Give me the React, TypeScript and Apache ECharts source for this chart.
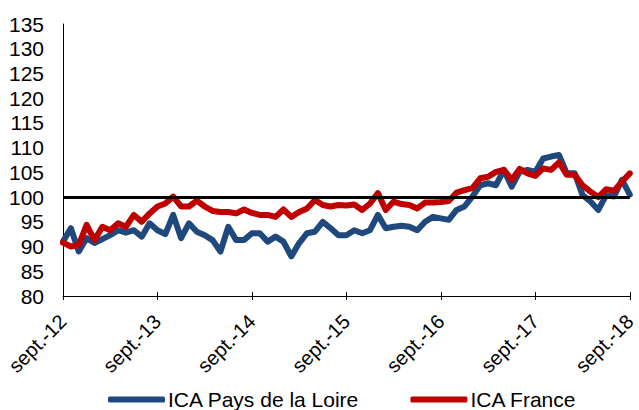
import React, { useEffect, useRef } from "react";
import * as echarts from "echarts";

const MONTHS = ["janv.", "févr.", "mars", "avr.", "mai", "juin", "juil.", "août", "sept.", "oct.", "nov.", "déc."];
const START_YEAR = 2012;
const START_MONTH = 8; // sept.
const N_MONTHS = 73;

const categories: string[] = [];
for (let i = 0; i < N_MONTHS; i++) {
  const m = (START_MONTH + i) % 12;
  const y = START_YEAR + Math.floor((START_MONTH + i) / 12);
  categories.push(MONTHS[m] + "-" + String(y % 100).padStart(2, "0"));
}

const paysDeLaLoire = [
  91, 93.7, 89, 91.7, 90.7, 91.5, 92.3, 93.3, 92.8, 93.3, 92, 94.7,
  93.3, 92.5, 96.4, 91.7, 94.7, 93, 92.3, 91.3, 89, 94, 91.3, 91.3,
  92.7, 92.7, 91, 92, 91, 88, 90.7, 92.7, 93, 95, 93.7, 92.3,
  92.3, 93.3, 92.7, 93.3, 96.4, 93.7, 94, 94.2, 94, 93.3, 95, 96,
  95.7, 95.4, 97.4, 98.1, 100.1, 102.4, 102.8, 102.4, 105.5, 102.1, 105.1, 105.5,
  105.1, 107.8, 108.2, 108.5, 104.8, 104.8, 100.4, 99.1, 97.4, 100.4, 100.1, 103.5,
  100.5,
];

const france = [
  90.8, 90.0, 90.3, 94.4, 91.3, 94.0, 93.3, 94.7, 94.0, 96.4, 95, 96.7,
  98.1, 98.7, 100.1, 98.1, 98.1, 99.3, 98.1, 97.2, 97, 97, 96.7, 97.5,
  96.8, 96.4, 96.4, 96, 97.5, 96, 97, 97.7, 99.4, 98.4, 98.1, 98.4,
  98.3, 98.5, 97.4, 98.7, 100.8, 97.4, 99.1, 98.6, 98.4, 97.7, 98.9, 98.9,
  99.0, 99.2, 100.9, 101.4, 101.8, 103.8, 104.1, 105.1, 105.5, 103.5, 105.7, 104.8,
  104.3, 105.8, 105.5, 107, 104.5, 104.5, 102.4, 101.1, 100, 101.6, 101.3, 103.1,
  104.8,
];

const BASELINE = 100;
const Y_MIN = 80;
const Y_MAX = 135;
const Y_STEP = 5;
const SERIES_NAMES = ["ICA Pays de la Loire", "ICA France"];

const FONT = "'Liberation Sans', Arial, sans-serif";

export default function App() {
  const ref = useRef<HTMLDivElement>(null);
  useEffect(() => {
    if (!ref.current) return;
    const chart = echarts.init(ref.current, null, { renderer: "svg" });
    chart.setOption({
      animation: false,
      textStyle: { fontFamily: FONT, color: "#000" },
      grid: { left: 63, right: 7, top: 24, bottom: 114, containLabel: false },
      legend: {
        data: SERIES_NAMES,
        left: 108,
        top: 389,
        padding: 0,
        icon: "roundRect",
        itemWidth: 57,
        itemHeight: 6,
        itemGap: 51,
        textStyle: { fontFamily: FONT, fontSize: 21, color: "#000", padding: [0, 0, 0, -2] },
      },
      xAxis: [
        {
          type: "category",
          data: categories,
          boundaryGap: false,
          axisLine: { lineStyle: { color: "#000", width: 1 } },
          axisTick: { show: true, interval: 11, length: 4, lineStyle: { color: "#000" } },
          axisLabel: {
            interval: 11,
            rotate: 45,
            fontSize: 20,
            fontFamily: FONT,
            color: "#000",
            margin: 22,
            padding: [36, 0, 0, 0],
          },
          splitLine: { show: false },
        },
        {
          type: "category",
          data: categories,
          boundaryGap: false,
          position: "bottom",
          axisLine: { show: false },
          axisTick: { show: true, inside: true, interval: 11, length: 4, lineStyle: { color: "#000" } },
          axisLabel: { show: false },
          splitLine: { show: false },
        },
      ],
      yAxis: {
        type: "value",
        min: Y_MIN,
        max: Y_MAX,
        interval: Y_STEP,
        axisLine: { show: true, lineStyle: { color: "#000", width: 1 } },
        axisTick: { show: false },
        splitLine: { show: false },
        axisLabel: { fontSize: 21, fontFamily: FONT, color: "#000", margin: 19 },
      },
      series: [
        {
          name: "base",
          type: "line",
          data: [],
          z: 1,
          silent: true,
          markLine: {
            silent: true,
            symbol: ["none", "none"],
            label: { show: false },
            lineStyle: { color: "#000", width: 3, type: "solid" },
            data: [{ yAxis: BASELINE }],
          },
        },
        {
          name: SERIES_NAMES[0],
          type: "line",
          data: paysDeLaLoire,
          z: 2,
          showSymbol: false,
          symbol: "none",
          lineStyle: { color: "#1F497D", width: 6, join: "round", cap: "round" },
          itemStyle: { color: "#1F497D" },
        },
        {
          name: SERIES_NAMES[1],
          type: "line",
          data: france,
          z: 3,
          showSymbol: false,
          symbol: "none",
          lineStyle: { color: "#C00000", width: 6, join: "round", cap: "round" },
          itemStyle: { color: "#C00000" },
        },
      ],
    });
    return () => chart.dispose();
  }, []);
  return (
    <div
      ref={ref}
      style={{ position: "fixed", left: 0, top: 0, width: 639, height: 410, background: "#fff" }}
    />
  );
}
